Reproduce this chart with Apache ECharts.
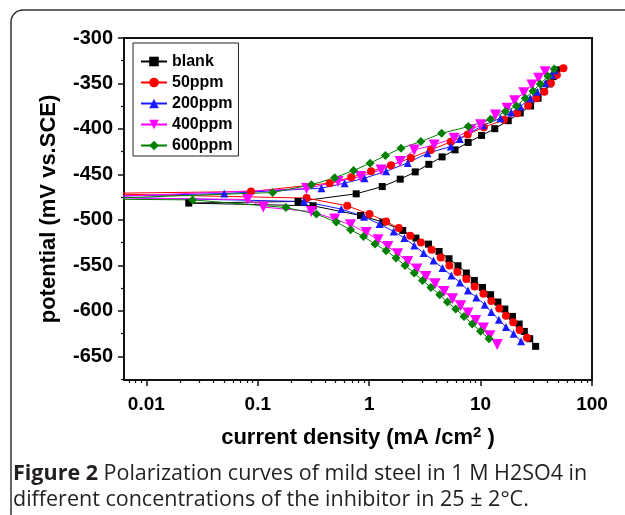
<!DOCTYPE html>
<html>
<head>
<meta charset="utf-8">
<script src="https://cdn.jsdelivr.net/npm/echarts@6.0.0/dist/echarts.min.js"></script>
<style>
  html, body { margin: 0; padding: 0; background: #fff; }
  #main { width: 625px; height: 515px; }
</style>
</head>
<body>
<div id="main"></div>
<script>
// current density (mA/cm2) and potential (mV vs SCE), cathodic end -> Ecorr -> anodic end
var blankI = [31.2, 27.6, 24.7, 22.2, 19.3, 16.5, 14.3, 12.3, 10.4, 8.79, 7.45, 6.27, 5.21, 4.24, 3.41, 2.63, 2.0, 1.33, 0.836, 0.314, 0.024,
  0.23, 0.765, 1.31, 1.90, 2.59, 3.43, 4.51, 5.90, 7.73, 10.2, 13.4, 17.7, 22.7, 28.1, 32.8, 37.0, 41.3, 44.9, 48.0];
var blankE = [-639.0, -630.6, -622.6, -614.5, -606.1, -598.0, -590.3, -582.2, -574.3, -566.6, -558.4, -550.4, -542.7, -534.7, -526.6, -520.0, -511.6, -502.4, -495.1, -484.5, -481.5,
  -479.7, -471.3, -463.3, -455.2, -447.2, -438.9, -430.7, -423.0, -414.8, -407.1, -399.7, -390.9, -382.4, -374.7, -366.2, -358.8, -350.5, -342.5, -335.0];

var ppm50I = [26.1, 22.4, 19.6, 16.9, 14.7, 12.5, 10.6, 8.84, 7.45, 6.19, 5.25, 4.39, 3.63, 2.91, 2.34, 1.84, 1.42, 1.006, 0.636, 0.274, 0.003,
  0.087, 0.442, 0.69, 1.04, 1.57, 2.37, 3.58, 5.40, 7.66, 10.7, 16.2, 21.3, 26.7, 31.6, 37.3, 42.8, 48.4, 55.4];
var ppm50E = [-629.5, -621.0, -612.6, -605.3, -597.3, -589.2, -581.1, -573.1, -565.0, -557.3, -550.1, -541.3, -532.8, -524.8, -517.4, -509.0, -501.7, -493.6, -484.5, -476.0, -471.0,
  -468.8, -459.6, -453.2, -446.6, -439.8, -431.8, -423.0, -414.2, -406.0, -398.1, -390.0, -382.7, -374.3, -366.2, -359.0, -349.7, -340.6, -333.3];

var ppm200I = [23.1, 19.8, 16.9, 14.6, 12.5, 10.9, 9.16, 7.70, 6.53, 5.47, 4.55, 3.78, 3.08, 2.54, 2.07, 1.66, 1.24, 0.90, 0.562, 0.26, 0.003,
  0.05, 0.373, 0.602, 0.908, 1.42, 2.22, 3.34, 5.40, 6.5, 10.5, 15.1, 18.8, 22.7, 27.9, 32.2, 38.1, 43.6, 46.5];
var ppm200E = [-633.5, -625.1, -617.7, -609.7, -601.2, -593.2, -585.2, -577.5, -568.7, -561.0, -552.9, -544.6, -536.4, -528.1, -520.0, -512.7, -504.6, -496.5, -488.1, -479.8, -474.5,
  -471.0, -465.1, -459.6, -454.1, -446.5, -437.3, -426.6, -419.4, -411.0, -396.0, -388.2, -382.0, -375.4, -366.2, -359.0, -349.7, -340.6, -335.5];

var ppm400I = [14.1, 12.1, 10.6, 9.02, 7.70, 6.63, 5.59, 4.70, 3.91, 3.23, 2.68, 2.22, 1.80, 1.47, 1.20, 0.94, 0.68, 0.49, 0.303, 0.112, 0.081, 0.003,
  0.274, 0.526, 0.836, 1.28, 1.89, 2.54, 3.83, 5.79, 8.14, 10.0, 13.6, 17.3, 20.2, 24.4, 28.9, 33.2, 38.0];
var ppm400E = [-637.1, -627.3, -618.8, -610.5, -602.4, -594.3, -586.6, -578.6, -570.2, -562.1, -554.0, -545.7, -537.2, -529.2, -521.8, -513.8, -505.4, -499.1, -490.8, -485.9, -477.5, -475.5,
  -465.5, -457.8, -452.3, -445.0, -435.8, -423.0, -417.5, -410.1, -401.0, -395.5, -384.6, -377.2, -368.9, -360.1, -351.6, -344.3, -337.0];

var ppm600I = [11.9, 10.0, 8.43, 7.10, 5.98, 5.04, 4.30, 3.58, 3.01, 2.54, 2.10, 1.74, 1.42, 1.13, 0.889, 0.681, 0.507, 0.336, 0.179, 0.026, 0.003,
  0.136, 0.303, 0.490, 0.724, 1.02, 1.40, 1.93, 2.91, 4.47, 7.77, 12.3, 16.7, 21.0, 25.2, 29.5, 34.3, 40.2, 45.8];
var ppm600E = [-630.6, -622.5, -614.4, -606.1, -598.0, -590.3, -582.2, -574.2, -566.5, -558.4, -550.1, -541.9, -533.9, -526.6, -518.2, -510.9, -502.4, -493.6, -486.4, -478.0, -477.0,
  -469.9, -461.4, -453.6, -445.7, -437.6, -429.2, -421.1, -413.9, -404.7, -397.4, -389.3, -380.9, -374.7, -366.2, -358.2, -350.5, -342.1, -334.0];

var seriesNames = ['blank', '50ppm', '200ppm', '400ppm', '600ppm'];

var xMajor = [0.01, 0.1, 1, 10, 100];
var xMinor = [0.007, 0.008, 0.009, 0.02, 0.03, 0.04, 0.05, 0.06, 0.07, 0.08, 0.09,
  0.2, 0.3, 0.4, 0.5, 0.6, 0.7, 0.8, 0.9, 2, 3, 4, 5, 6, 7, 8, 9,
  20, 30, 40, 50, 60, 70, 80, 90];
var yMajor = [-650, -600, -550, -500, -450, -400, -350, -300];
var yMinor = [-675, -625, -575, -525, -475, -425, -375, -325];

function pairs(xs, ys) {
  return xs.map(function (x, k) { return [x, ys[k]]; });
}

var chartDom = document.getElementById('main');
var myChart = echarts.init(chartDom);

var font = 'Liberation Sans, Arial, sans-serif';

function mk(name, xs, ys, color, symbol, size, rotate) {
  return {
    name: name,
    type: 'line',
    data: pairs(xs, ys),
    symbol: symbol,
    symbolSize: size,
    symbolRotate: rotate || 0,
    showAllSymbol: true,
    clip: true,
    lineStyle: { color: color, width: 1 },
    itemStyle: { color: color },
    emphasis: { disabled: true },
    z: 3
  };
}

var option = {
  animation: false,
  textStyle: { fontFamily: font },
  grid: {
    left: 124, top: 38, right: 33, bottom: 135,
    show: true, borderColor: '#111', borderWidth: 2, backgroundColor: 'transparent'
  },
  legend: {
    orient: 'vertical',
    left: 133, top: 43,
    padding: [10, 6, 2, 7],
    itemWidth: 26, itemHeight: 12, itemGap: 4,
    borderColor: '#222', borderWidth: 1,
    backgroundColor: '#fff',
    textStyle: { fontFamily: font, fontWeight: 'bold', fontSize: 16, color: '#000', lineHeight: 17 },
    data: seriesNames
  },
  xAxis: [{
    type: 'log',
    min: 0.0063, max: 100,
    name: '{a|current density (mA /cm}{s|2}{a| )}',
    nameLocation: 'middle',
    nameGap: 45,
    nameTextStyle: {
      rich: {
        a: { fontFamily: font, fontWeight: 'bold', fontSize: 22, color: '#000', lineHeight: 26 },
        s: { fontFamily: font, fontWeight: 'bold', fontSize: 15, color: '#000', verticalAlign: 'top', lineHeight: 26 }
      }
    },
    axisLine: { lineStyle: { color: '#111', width: 2 } },
    axisTick: { inside: false, length: 6, customValues: xMajor, lineStyle: { color: '#111', width: 1.5 } },
    axisLabel: { customValues: xMajor, margin: 15, fontFamily: font, fontWeight: 'bold', fontSize: 19, color: '#000',
      formatter: function (v) { return String(v); } },
    splitLine: { show: false }, minorSplitLine: { show: false }
  }, {
    type: 'log', position: 'bottom', gridIndex: 0,
    min: 0.0063, max: 100,
    axisLine: { show: false },
    axisTick: { inside: false, length: 3, customValues: xMinor, lineStyle: { color: '#111', width: 1.2 } },
    axisLabel: { show: false },
    splitLine: { show: false }
  }],
  yAxis: [{
    type: 'value',
    min: -676, max: -300,
    name: 'potential (mV vs.SCE)',
    nameLocation: 'middle',
    nameGap: 64,
    nameTextStyle: { fontFamily: font, fontWeight: 'bold', fontSize: 22, color: '#000' },
    axisLine: { show: true, lineStyle: { color: '#111', width: 2 } },
    axisTick: { show: true, inside: false, length: 6, customValues: yMajor, lineStyle: { color: '#111', width: 1.5 } },
    axisLabel: { customValues: yMajor, margin: 11, fontFamily: font, fontWeight: 'bold', fontSize: 20, color: '#000' },
    splitLine: { show: false }
  }, {
    type: 'value', position: 'left', gridIndex: 0,
    min: -676, max: -300,
    axisLine: { show: false },
    axisTick: { show: true, inside: false, length: 3, customValues: yMinor, lineStyle: { color: '#111', width: 1.2 } },
    axisLabel: { show: false },
    splitLine: { show: false }
  }],
  series: [
    mk(seriesNames[0], blankI, blankE, '#000000', 'rect', 7),
    mk(seriesNames[1], ppm50I, ppm50E, '#ff0000', 'circle', 8),
    mk(seriesNames[2], ppm200I, ppm200E, '#1a1aff', 'triangle', 8),
    mk(seriesNames[3], ppm400I, ppm400E, '#ff00ff', 'triangle', 11, 180),
    mk(seriesNames[4], ppm600I, ppm600E, '#008000', 'diamond', 9)
  ],
  graphic: [
    {
      type: 'rect', silent: true, z: -1,
      shape: { x: 11, y: 10, width: 700, height: 600, r: [12, 0, 0, 0] },
      style: { fill: 'none', stroke: '#333', lineWidth: 1.5 }
    },
    {
      type: 'text', left: 13, top: 463, silent: true,
      style: {
        text: '{b|Figure 2} Polarization curves of mild steel in 1 M H2SO4 in',
        font: '21.5px "Open Sans", sans-serif', fill: '#231f20',
        rich: { b: { fontWeight: 'bold', fontSize: 21.5, fontFamily: 'Open Sans', fill: '#231f20' } }
      }
    },
    {
      type: 'text', left: 13, top: 489, silent: true,
      style: {
        text: 'different concentrations of the inhibitor in 25 ± 2°C.',
        font: '21.5px "Open Sans", sans-serif', fill: '#231f20'
      }
    }
  ]
};

myChart.setOption(option);
window.addEventListener('resize', myChart.resize);
</script>
</body>
</html>
